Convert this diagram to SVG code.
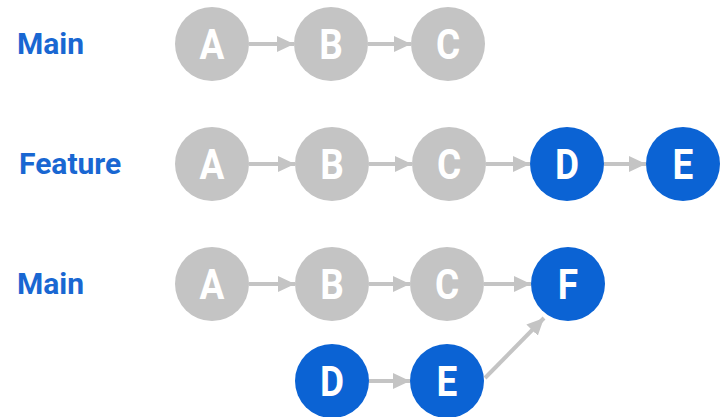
<svg xmlns="http://www.w3.org/2000/svg" width="720" height="417" viewBox="0 0 720 417">
<defs>
<style>
.lbl{font-family:Roboto,"Liberation Sans",sans-serif;font-weight:bold;font-size:30px;fill:#1967d2}
.g circle{fill:#c4c4c4}
.b circle{fill:#0b63d4}
.n text{font-family:Roboto,"Liberation Sans",sans-serif;font-weight:bold;font-size:43px;fill:#ffffff;text-anchor:middle;dominant-baseline:central}
.e{stroke:#c4c4c4;stroke-width:4;fill:none;marker-end:url(#ah)}
</style>
<marker id="ah" markerUnits="userSpaceOnUse" markerWidth="18" markerHeight="18" refX="17" refY="8" orient="auto" viewBox="0 0 18 16">
<path d="M0,0 L17,8 L0,16 Z" fill="#c4c4c4"/>
</marker>
</defs>
<rect width="720" height="417" fill="#ffffff"/>
<g id="labels">
<text class="lbl" x="17" y="54">Main</text>
<text class="lbl" x="19" y="174">Feature</text>
<text class="lbl" x="17" y="294">Main</text>
</g>
<g id="connectors">
<line class="e" x1="249" y1="44" x2="294" y2="44"/>
<line class="e" x1="368" y1="44" x2="411" y2="44"/>
<line class="e" x1="249" y1="164" x2="295" y2="164"/>
<line class="e" x1="369" y1="164" x2="412" y2="164"/>
<line class="e" x1="486" y1="164" x2="530" y2="164"/>
<line class="e" x1="604" y1="164" x2="646" y2="164"/>
<line class="e" x1="249" y1="284" x2="295" y2="284"/>
<line class="e" x1="369" y1="284" x2="410" y2="284"/>
<line class="e" x1="484" y1="284" x2="531" y2="284"/>
<line class="e" x1="369" y1="381" x2="410" y2="381"/>
<line class="e" x1="485" y1="378" x2="544" y2="318"/>
</g>
<g id="r1A" class="n g"><circle cx="212" cy="44" r="37"/><text transform="translate(212 45) scale(0.86 1)">A</text></g>
<g id="r1B" class="n g"><circle cx="331" cy="44" r="37"/><text transform="translate(331 45) scale(0.86 1)">B</text></g>
<g id="r1C" class="n g"><circle cx="448" cy="44" r="37"/><text transform="translate(448 45) scale(0.86 1)">C</text></g>
<g id="r2A" class="n g"><circle cx="212" cy="164" r="37"/><text transform="translate(212 165) scale(0.86 1)">A</text></g>
<g id="r2B" class="n g"><circle cx="332" cy="164" r="37"/><text transform="translate(332 165) scale(0.86 1)">B</text></g>
<g id="r2C" class="n g"><circle cx="449" cy="164" r="37"/><text transform="translate(449 165) scale(0.86 1)">C</text></g>
<g id="r2D" class="n b"><circle cx="567" cy="164" r="37"/><text transform="translate(567 165) scale(0.86 1)">D</text></g>
<g id="r2E" class="n b"><circle cx="683" cy="164" r="37"/><text transform="translate(683 165) scale(0.86 1)">E</text></g>
<g id="r3A" class="n g"><circle cx="212" cy="284" r="37"/><text transform="translate(212 285) scale(0.86 1)">A</text></g>
<g id="r3B" class="n g"><circle cx="332" cy="284" r="37"/><text transform="translate(332 285) scale(0.86 1)">B</text></g>
<g id="r3C" class="n g"><circle cx="447" cy="284" r="37"/><text transform="translate(447 285) scale(0.86 1)">C</text></g>
<g id="r3F" class="n b"><circle cx="568" cy="284" r="37"/><text transform="translate(568 285) scale(0.86 1)">F</text></g>
<g id="r4D" class="n b"><circle cx="332" cy="381" r="37"/><text transform="translate(332 382) scale(0.86 1)">D</text></g>
<g id="r4E" class="n b"><circle cx="447" cy="381" r="37"/><text transform="translate(447 382) scale(0.86 1)">E</text></g>
</svg>
